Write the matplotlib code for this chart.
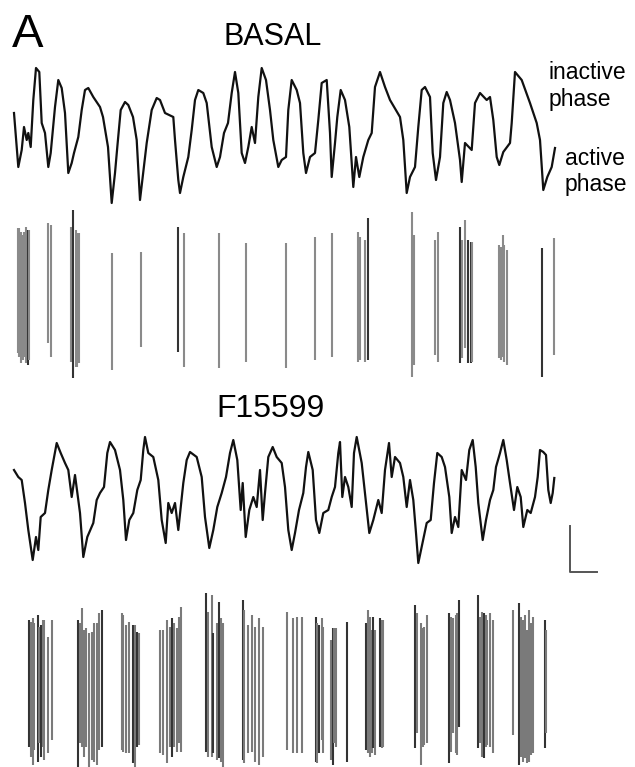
import matplotlib
matplotlib.use("Agg")
import matplotlib.pyplot as plt

# ---------------- data ----------------
# BASAL membrane potential trace: time (arbitrary units), level (inverted units)
basal_t = [14, 18.3, 21.7, 24, 26.7, 28.3, 30.7, 33.3, 36, 39.3, 41.7, 45, 48.3, 50.7, 55, 58.3,
           61.7, 65, 68.3, 71.7, 74, 78.3, 81.7, 85, 88.3, 93.3, 100, 103, 108, 111.7, 115, 117.3,
           120.7, 125, 128.3, 133, 136.7, 140, 142.7, 146.7, 151.7, 156.7, 160, 165, 173.3, 175,
           178.3, 180, 183.3, 188.3, 191.7, 195, 198.3, 203.3, 206.7, 211.7, 216.7, 220, 224, 228,
           231.7, 235, 238.3, 241.7, 245, 248.3, 251.7, 255, 258.3, 261.7, 266, 270, 273.3, 278.3,
           281.7, 286, 288.3, 291.7, 296.7, 300, 303.3, 306, 310, 315, 318.3, 321.7, 326.7, 330,
           331.7, 335, 337.3, 340.7, 345, 349.3, 353.3, 356, 359.3, 363.3, 368.3, 371.7, 375, 380,
           385, 390, 400, 403.3, 406.7, 410, 415, 418.3, 421.7, 425, 430, 432.7, 436, 440, 443.3,
           446.7, 450, 455, 460, 461.7, 465, 471.7, 475, 480, 486.7, 490, 493.3, 496.7, 499.3,
           503.3, 510, 511.7, 515, 521.7, 530, 536.7, 540, 543.3, 547.3, 551.7, 555]
basal_v = [113, 167, 150, 127, 140, 133, 147, 100, 68, 72, 123, 133, 167, 153, 107, 80,
           88, 113, 173, 163, 153, 137, 110, 90, 88, 97, 107, 117, 147, 203, 173, 147,
           110, 102, 105, 117, 140, 200, 177, 143, 110, 98, 100, 113, 117, 140,
           180, 193, 177, 157, 130, 100, 90, 93, 103, 147, 167, 157, 133, 123,
           93, 72, 93, 153, 163, 147, 127, 143, 97, 68, 80, 110, 140, 167,
           160, 157, 110, 80, 90, 103, 153, 173, 157, 153, 120, 83, 80, 133,
           177, 143, 117, 90, 100, 127, 187, 157, 177, 157, 140, 133, 87, 72,
           87, 100, 117, 140, 193, 177, 167, 127, 90, 87, 97, 153, 180, 157, 103,
           92, 100, 123, 160, 182, 143, 150, 103, 93, 100, 97, 120, 157, 165,
           152, 143, 123, 72, 80, 103, 123, 140, 190, 177, 167, 148]

# F15599 membrane potential trace
drug_t = [14, 18.3, 21.7, 25, 28.3, 32.7, 36, 38.3, 40.7, 45, 48.3, 51.7, 56.7, 60.7, 65, 68.3,
          71.7, 75, 80, 83.3, 87.3, 93.3, 96.7, 100, 104, 107.3, 110, 115, 120, 123.3, 126,
          129.3, 133.3, 137.3, 140.7, 143.3, 145, 148.3, 153.3, 158.3, 161.7, 165.7, 168.3,
          171.7, 175, 178.3, 183.3, 186.7, 190, 196.7, 201.7, 205, 209.3, 213.3, 217.3, 221.7,
          226, 230, 233.3, 237.3, 240.7, 242.7, 245.7, 249.3, 253.3, 256.7, 260, 262.7, 265,
          268.3, 272.7, 276.7, 281.7, 285, 288.3, 291.7, 295, 299, 303.3, 306, 308.3, 312.7,
          316, 319.3, 323.3, 328.3, 331.7, 335, 338.3, 340, 342.3, 345, 348.3, 351.7, 354,
          356.7, 361.7, 365, 369.3, 373.3, 378.3, 381.7, 385, 389, 391.7, 395, 400, 403.3,
          406.7, 410, 413.3, 416, 418.3, 421.7, 426.7, 430.7, 434, 437.3, 441.7, 445, 449.3,
          451.7, 455, 458.3, 461.7, 466, 469.3, 472.7, 475.7, 478.3, 482.7, 486, 490, 493.3,
          496, 500, 503.3, 506.7, 510, 514, 517.3, 520.7, 523.3, 527.3, 530.7, 535, 537.7,
          540, 543.3, 546, 548.3, 550.7, 552.7, 554.3]
drug_v = [470, 477, 480, 503, 530, 560, 537, 550, 517, 513, 490, 470, 443, 453, 463, 470,
          497, 475, 513, 557, 537, 523, 500, 493, 487, 453, 442, 450, 470, 500, 540,
          520, 513, 490, 480, 450, 437, 453, 457, 480, 520, 543, 503,
          513, 503, 530, 483, 460, 452, 457, 477, 517, 548, 530, 507, 493,
          477, 453, 440, 460, 510, 483, 537, 510, 497, 507, 470, 520, 493,
          457, 447, 457, 463, 487, 530, 550, 533, 510, 493, 467, 452, 470,
          520, 533, 513, 510, 497, 487, 453, 442, 497, 477, 487, 507, 453,
          437, 463, 493, 533, 520, 500, 513, 470, 443, 477, 457, 463, 477,
          507, 480, 500, 533, 563, 547, 523, 520, 483, 453, 457, 467, 497,
          533, 517, 527, 470, 480, 450, 440, 467, 503, 540, 520, 500, 490,
          467, 453, 440, 460, 483, 510, 487, 497, 527, 510, 513, 497, 477,
          450, 452, 455, 490, 503, 493, 478]

# Raster of events (BASAL): event time, upper end, lower end
basal_spk = [17.7, 19.3, 21, 22.7, 24.3, 26, 27.7, 29.3, 47.7, 51, 70.7, 73.3, 75.7, 77.3, 79.3,
             112, 140.7, 178.3, 184, 219, 246, 286, 315, 332.3, 358.3, 360, 365, 368.3,
             411.7, 414, 435, 438.3, 460, 461.7, 465, 468.3, 470.7, 472.3, 499.3, 501, 502.7,
             504.3, 506.7, 541.7, 554]
basal_top = [228, 228, 232, 235, 232, 227, 230, 230, 223, 225, 227, 210, 230, 233, 233,
             253, 252, 227, 233, 233, 243, 243, 237, 233, 232, 237, 240, 218,
             212, 235, 240, 232, 227, 240, 220, 240, 242, 242, 245, 247, 235,
             245, 250, 248, 238]
basal_bot = [353, 357, 363, 360, 357, 363, 365, 360, 343, 357, 362, 378, 367, 367, 363,
             370, 347, 352, 367, 368, 362, 368, 360, 357, 362, 360, 362, 360,
             377, 365, 355, 362, 363, 358, 348, 363, 363, 362, 358, 360, 357,
             362, 365, 377, 355]
basal_dark = [0, 0, 0, 0, 0, 0, 1, 0, 0, 0, 0, 1, 0, 0, 0,
              0, 0, 1, 0, 0, 0, 0, 0, 0, 0, 0, 0, 1,
              0, 0, 0, 0, 1, 0, 0, 1, 1, 0, 0, 0, 0,
              0, 0, 1, 0]

# Raster of events (F15599)
drug_spk = [29.3, 31, 32.7, 34.3, 37.7, 39.3, 41, 42.7, 44.3, 48.3, 51.7,
            78.3, 80, 81.7, 84, 86, 89.3, 91.7, 94.3, 96.7, 99.3, 101.7,
            121.7, 123.3, 126, 129.3, 132.7, 135, 137.3, 139.3,
            160, 163.3, 166.7, 170, 172.3, 174.3, 176.7, 179, 181,
            206, 207.7, 212.3, 213.3, 217.3, 219.3, 221, 223.3,
            242.7, 244.3, 248.3, 252.3, 255, 259.3, 263.3,
            287.3, 292.7, 296.7, 301.7, 316, 317.3, 319.3, 322.3, 323.3,
            330.7, 332.7, 334.3, 336, 346.7,
            366, 368.3, 370, 371.7, 373.3, 375, 380, 381.7, 383.3,
            415, 416.7, 421, 422.7, 424.3, 426.7,
            449.3, 451, 453.3, 455.7, 457.3, 459,
            478.3, 480, 482.3, 484, 485.7, 487.3, 490, 492.7,
            512.7, 519.3, 521, 523.3, 525, 527.3, 529, 531, 533.3, 545, 546]
drug_top = [620, 622, 618, 623, 615, 627, 625, 620, 620, 637, 620,
            620, 623, 608, 630, 628, 633, 632, 623, 623, 613, 610,
            613, 615, 625, 622, 625, 625, 632, 633,
            630, 630, 620, 627, 618, 623, 628, 617, 607,
            593, 612, 595, 633, 623, 602, 618, 623,
            600, 610, 625, 615, 627, 618, 627,
            612, 618, 617, 617, 617, 623, 625, 618, 627,
            640, 628, 628, 628, 622,
            623, 610, 617, 630, 617, 630, 618, 620, 620,
            605, 613, 623, 628, 627, 615,
            613, 617, 618, 615, 613, 600,
            595, 617, 612, 613, 615, 620, 613, 620,
            610, 603, 617, 620, 615, 630, 610, 623, 617, 620, 630]
drug_bot = [747, 757, 765, 750, 762, 743, 757, 747, 760, 753, 740,
            767, 743, 747, 757, 747, 767, 760, 762, 765, 750, 747,
            750, 752, 753, 753, 763, 767, 747, 745,
            753, 755, 763, 747, 757, 747, 752, 743, 752,
            752, 757, 757, 753, 760, 758, 762, 767,
            760, 763, 753, 752, 762, 765, 757,
            750, 753, 753, 753, 762, 763, 753, 740, 753,
            760, 765, 743, 747, 762,
            750, 753, 757, 753, 748, 755, 747, 748, 747,
            748, 733, 765, 747, 745, 743,
            763, 752, 733, 753, 755, 727,
            748, 743, 757, 758, 747, 745, 747, 753,
            735, 765, 757, 762, 758, 763, 762, 755, 753, 748, 733]
drug_dark = [1, 0, 0, 0, 1, 0, 1, 0, 0, 0, 0,
             1, 0, 0, 0, 0, 0, 0, 0, 0, 0, 1,
             0, 0, 0, 0, 1, 0, 1, 0,
             0, 0, 0, 0, 1, 0, 0, 0, 0,
             1, 0, 0, 1, 0, 1, 0, 0,
             1, 0, 0, 0, 0, 0, 0,
             0, 0, 0, 0, 1, 0, 1, 0, 0,
             0, 1, 0, 0, 1,
             1, 0, 0, 0, 1, 0, 1, 0, 0,
             1, 0, 0, 0, 0, 0,
             1, 0, 0, 0, 0, 1,
             1, 0, 0, 1, 0, 0, 0, 0,
             0, 1, 0, 0, 0, 0, 0, 0, 0, 1, 0]

scalebar_x = [570, 570, 597]
scalebar_y = [526, 572, 572]

# ---------------- figure ----------------
W, H = 635, 767
fig = plt.figure(figsize=(W / 100, H / 100), dpi=100)
ax = fig.add_axes([0, 0, 1, 1])
ax.set_xlim(0, W)
ax.set_ylim(H, 0)
ax.axis("off")

font = ["Liberation Sans", "DejaVu Sans"]

ax.plot(basal_t, basal_v, color="#111111", lw=1.6, solid_joinstyle="round")
ax.plot(drug_t, drug_v, color="#111111", lw=1.6, solid_joinstyle="round")

for x, t, b, d in zip(basal_spk, basal_top, basal_bot, basal_dark):
    ax.plot([x, x], [t, b], color="#333333" if d else "#8a8a8a", lw=1.5, solid_capstyle="butt")
for x, t, b, d in zip(drug_spk, drug_top, drug_bot, drug_dark):
    ax.plot([x, x], [t, b], color="#333333" if d else "#7a7a7a", lw=1.5, solid_capstyle="butt")

ax.plot(scalebar_x, scalebar_y, color="#555555", lw=1.4)

ax.text(12, 47, "A", fontsize=34, family=font, va="baseline", ha="left")
ax.text(224, 45, "BASAL", fontsize=22, family=font, va="baseline", ha="left")
ax.text(216, 417, "F15599", fontsize=23, family=font, va="baseline", ha="left")
ax.text(549, 79, "inactive", fontsize=16.5, family=font, va="baseline", ha="left")
ax.text(549, 106, "phase", fontsize=16.5, family=font, va="baseline", ha="left")
ax.text(565, 165, "active", fontsize=16.5, family=font, va="baseline", ha="left")
ax.text(565, 191, "phase", fontsize=16.5, family=font, va="baseline", ha="left")

fig.savefig("out.png", dpi=100)
